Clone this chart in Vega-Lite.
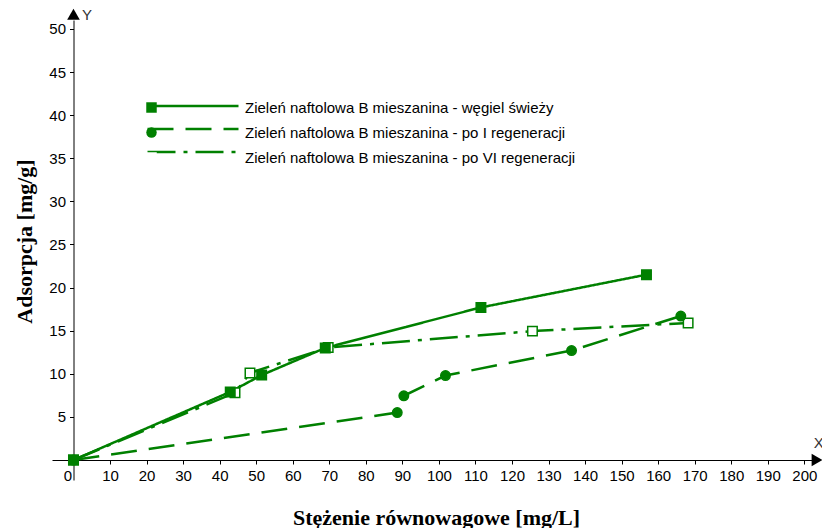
{
  "$schema": "https://vega.github.io/schema/vega-lite/v6.json",
  "width": 760,
  "height": 460,
  "autosize": {"type": "none"},
  "padding": {"left": 52, "top": 20, "right": 10, "bottom": 48},
  "background": "white",
  "config": {"view": {"stroke": null}},
  "layer": [
    {
      "data": {"name": "series", "values": [
        {"s": "Zieleń naftolowa B mieszanina - po VI regeneracji", "x": 0, "y": 0},
        {"s": "Zieleń naftolowa B mieszanina - po VI regeneracji", "x": 44.2, "y": 7.8},
        {"s": "Zieleń naftolowa B mieszanina - po VI regeneracji", "x": 48.3, "y": 10.1},
        {"s": "Zieleń naftolowa B mieszanina - po VI regeneracji", "x": 69.7, "y": 13.05},
        {"s": "Zieleń naftolowa B mieszanina - po VI regeneracji", "x": 125.6, "y": 14.95},
        {"s": "Zieleń naftolowa B mieszanina - po VI regeneracji", "x": 168.2, "y": 15.9},
        {"s": "Zieleń naftolowa B mieszanina - po I regeneracji", "x": 0, "y": 0},
        {"s": "Zieleń naftolowa B mieszanina - po I regeneracji", "x": 88.6, "y": 5.5},
        {"s": "Zieleń naftolowa B mieszanina - po I regeneracji", "x": 90.4, "y": 7.45},
        {"s": "Zieleń naftolowa B mieszanina - po I regeneracji", "x": 101.8, "y": 9.8},
        {"s": "Zieleń naftolowa B mieszanina - po I regeneracji", "x": 136.3, "y": 12.7},
        {"s": "Zieleń naftolowa B mieszanina - po I regeneracji", "x": 166.2, "y": 16.7},
        {"s": "Zieleń naftolowa B mieszanina - węgiel świeży", "x": 0, "y": 0},
        {"s": "Zieleń naftolowa B mieszanina - węgiel świeży", "x": 42.9, "y": 7.9},
        {"s": "Zieleń naftolowa B mieszanina - węgiel świeży", "x": 51.5, "y": 9.85},
        {"s": "Zieleń naftolowa B mieszanina - węgiel świeży", "x": 68.9, "y": 13.0},
        {"s": "Zieleń naftolowa B mieszanina - węgiel świeży", "x": 111.5, "y": 17.7},
        {"s": "Zieleń naftolowa B mieszanina - węgiel świeży", "x": 156.8, "y": 21.5}
      ]},
      "layer": [
        {
          "mark": {"type": "line", "color": "#008000", "strokeWidth": 2.5},
          "encoding": {
            "x": {"field": "x", "type": "quantitative",
              "scale": {"domain": [-5.88, 202.1], "nice": false, "zero": false},
              "axis": {
                "values": [0,10,20,30,40,50,60,70,80,90,100,110,120,130,140,150,160,170,180,190,200],
                "tickCount": 21,
                "offset": -20, "grid": false,
                "domainColor": "#000", "domainWidth": 1,
                "tickColor": "#000", "tickSize": 4,
                "labelFont": "Liberation Sans", "labelFontSize": 15, "labelColor": "#000",
                "labelPadding": 4, "labelFlush": false, "labelOverlap": false, "labelSeparation": -30,
                "labelAlign": {"condition": {"test": "datum.value === 0", "value": "right"}, "value": "center"},
                "labelOffset": {"condition": {"test": "datum.value === 0", "value": -2}, "value": 0},
                "title": "Stężenie równowagowe [mg/L]",
                "titleFont": "Liberation Serif", "titleFontSize": 22, "titleFontWeight": "bold", "titleColor": "#000",
                "titleX": 384, "titleY": 57, "titleBaseline": "middle", "titleAlign": "center"
              }},
            "y": {"field": "y", "type": "quantitative",
              "scale": {"domain": [-2.32, 51.04], "nice": false, "zero": false},
              "axis": {
                "values": [5,10,15,20,25,30,35,40,45,50],
                "offset": -21.5, "grid": false,
                "domainColor": "#000", "domainWidth": 1,
                "tickColor": "#000", "tickSize": 4,
                "labelFont": "Liberation Sans", "labelFontSize": 15, "labelColor": "#000",
                "labelPadding": 4, "labelOverlap": false, "labelFlush": false,
                "title": "Adsorpcja [mg/g]",
                "titleFont": "Liberation Serif", "titleFontSize": 22, "titleFontWeight": "bold", "titleColor": "#000",
                "titleX": -49.5, "titleY": 221, "titleAngle": -90, "titleBaseline": "middle", "titleAlign": "center"
              }},
            "strokeDash": {"field": "s", "type": "nominal", "title": null,
              "scale": {"domain": ["Zieleń naftolowa B mieszanina - węgiel świeży", "Zieleń naftolowa B mieszanina - po I regeneracji", "Zieleń naftolowa B mieszanina - po VI regeneracji", " "],
                        "range": [[1, 0], [26, 12], [28, 8, 4, 8], [0, 1000]]},
              "legend": {
                "title": null,
                "orient": "none", "legendX": 94, "legendY": 80, "padding": 0,
                "symbolType": "stroke", "symbolSize": 8281, "clipHeight": 12,
                "symbolStrokeWidth": 2.5, "symbolStrokeColor": "#008000",
                "labelFont": "Liberation Sans", "labelFontSize": 15, "labelColor": "#000", "labelOpacity": 0,
                "labelLimit": 600, "rowPadding": 8
              }}
          }
        },
        {
          "mark": {"type": "point", "filled": true, "stroke": "#008000", "strokeWidth": 1.5, "size": 90, "opacity": 1},
          "encoding": {
            "x": {"field": "x", "type": "quantitative"},
            "y": {"field": "y", "type": "quantitative"},
            "fill": {"field": "s", "type": "nominal", "title": null,
              "scale": {"domain": ["Zieleń naftolowa B mieszanina - węgiel świeży", "Zieleń naftolowa B mieszanina - po I regeneracji", "Zieleń naftolowa B mieszanina - po VI regeneracji"],
                        "range": ["#008000", "#008000", "white"]}},
            "shape": {"field": "s", "type": "nominal", "title": null,
              "scale": {"domain": ["Zieleń naftolowa B mieszanina - węgiel świeży", "Zieleń naftolowa B mieszanina - po I regeneracji", "Zieleń naftolowa B mieszanina - po VI regeneracji"],
                        "range": ["square", "circle", "square"]},
              "legend": {
                "title": null,
                "orient": "none", "legendX": 92, "legendY": 80, "padding": 0,
                "symbolSize": 110, "symbolStrokeWidth": 1.5, "symbolStrokeColor": "#008000",
                "labelFont": "Liberation Sans", "labelFontSize": 15, "labelColor": "#000",
                "labelOffset": 86, "labelLimit": 600, "rowPadding": 8
              }}
          }
        }
      ]
    },
    {
      "data": {"values": [{}]},
      "mark": {"type": "point", "shape": "triangle-right", "filled": true, "color": "#000", "size": 160, "opacity": 1},
      "encoding": {"x": {"datum": 203.5}, "y": {"datum": 0}}
    },
    {
      "data": {"values": [{}]},
      "mark": {"type": "point", "shape": "triangle-up", "filled": true, "color": "#000", "size": 160, "opacity": 1},
      "encoding": {"x": {"datum": 0}, "y": {"datum": 51.7}}
    },
    {
      "data": {"values": [{}]},
      "mark": {"type": "text", "text": "X", "font": "Liberation Sans", "fontSize": 15, "color": "#333", "align": "left", "baseline": "middle"},
      "encoding": {"x": {"datum": 202.6}, "y": {"datum": 2.0}}
    },
    {
      "data": {"values": [{}]},
      "mark": {"type": "text", "text": "Y", "font": "Liberation Sans", "fontSize": 15, "color": "#333", "align": "center", "baseline": "middle"},
      "encoding": {"x": {"datum": 3.7}, "y": {"datum": 51.6}}
    }
  ]
}
